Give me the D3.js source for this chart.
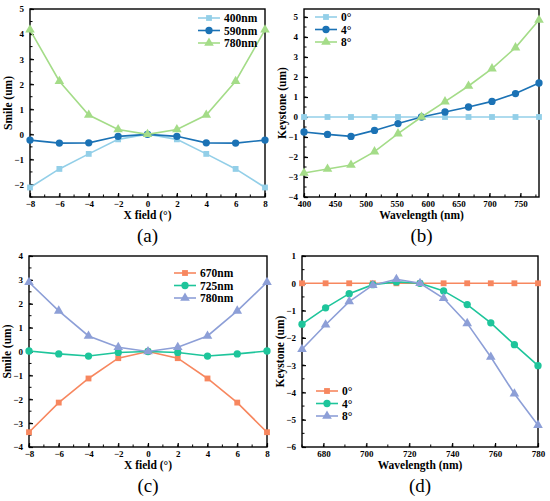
<!DOCTYPE html>
<html>
<head>
<meta charset="utf-8">
<script src="https://cdn.jsdelivr.net/npm/d3@7"></script>
<style>
  body { margin: 0; background: #fff; }
  svg { display: block; }
  text { font-family: "Liberation Serif", "DejaVu Serif", serif; }
</style>
</head>
<body>
<svg id="fig" width="550" height="501"></svg>
<script>
// field angles (deg) for the smile panels
const fieldX = [-8, -6, -4, -2, 0, 2, 4, 6, 8]
// wavelengths for keystone panels
const waveB = [400, 438, 476, 514, 552, 590, 628, 666, 704, 742, 780]
const waveD = [670, 681, 692, 703, 714, 725, 736, 747, 758, 769, 780]

// (a) smile, 400-780nm system
const smile400 = [-2.12, -1.38, -0.78, -0.2, 0, -0.2, -0.78, -1.38, -2.12]
const smile590 = [-0.23, -0.35, -0.34, -0.08, 0, -0.08, -0.34, -0.35, -0.23]
const smile780a = [4.17, 2.12, 0.77, 0.19, 0, 0.19, 0.77, 2.12, 4.17]

// (b) keystone
const key0b = [0, 0, 0, 0, 0, 0, 0, 0, 0, 0, 0]
const key4b = [-0.75, -0.87, -0.97, -0.67, -0.33, 0, 0.25, 0.5, 0.78, 1.17, 1.7]
const key8b = [-2.8, -2.6, -2.4, -1.73, -0.83, 0, 0.77, 1.55, 2.42, 3.47, 4.85]

// (c) smile, 670-780nm system
const smile670 = [-3.38, -2.14, -1.13, -0.28, 0, -0.28, -1.13, -2.14, -3.38]
const smile725 = [0.02, -0.1, -0.19, -0.04, 0, -0.04, -0.19, -0.1, 0.02]
const smile780c = [2.9, 1.7, 0.65, 0.18, 0, 0.18, 0.65, 1.7, 2.9]

// (d) keystone
const key0d = [0, 0, 0, 0, 0, 0, 0, 0, 0, 0, 0]
const key4d = [-1.5, -0.9, -0.38, -0.05, 0.05, 0, -0.28, -0.78, -1.45, -2.25, -3.02]
const key8d = [-2.42, -1.52, -0.67, -0.07, 0.15, 0, -0.55, -1.47, -2.7, -4.05, -5.2]

const ticksField = [-8, -6, -4, -2, 0, 2, 4, 6, 8]
const ticksWaveB = [400, 450, 500, 550, 600, 650, 700, 750]
const ticksWaveD = [680, 700, 720, 740, 760, 780]

const blueSet = ['#93cfe8', '#1b72b5', '#a4dc88']
const warmSet = ['#f7875f', '#1ec59b', '#8d9fd7']

const svg = d3.select('#fig')

function panel(o){
    let g = svg.append('g')
    let x = d3.scaleLinear().domain(o.xDom).range([o.left, o.right])
    let y = d3.scaleLinear().domain(o.yDom).range([o.bottom, o.top])

    // frame
    g.append('rect')
        .attr('x', o.left).attr('y', o.top)
        .attr('width', o.right - o.left).attr('height', o.bottom - o.top)
        .attr('fill', 'none').attr('stroke', '#000').attr('stroke-width', 1.4)

    // minor ticks (inside)
    let xMinor = d3.range(o.xDom[0], o.xDom[1] + 1e-9, o.xMinor)
    let yMinor = d3.range(Math.ceil(o.yDom[0] / o.yMinor) * o.yMinor, o.yDom[1] + 1e-9, o.yMinor)
    g.selectAll(null).data(xMinor).enter().append('line')
        .attr('x1', d => x(d)).attr('x2', d => x(d))
        .attr('y1', o.bottom).attr('y2', o.bottom - 2.5)
        .attr('stroke', '#000').attr('stroke-width', 1)
    g.selectAll(null).data(yMinor).enter().append('line')
        .attr('x1', o.left).attr('x2', o.left + 2.5)
        .attr('y1', d => y(d)).attr('y2', d => y(d))
        .attr('stroke', '#000').attr('stroke-width', 1)

    // major ticks via axis, pointing inward
    let xAxis = g.append('g')
        .attr('transform', 'translate(0,' + o.bottom + ')')
        .call(d3.axisBottom(x).tickValues(o.xTicks).tickSize(-4).tickPadding(4).tickFormat(d3.format('d')))
    let yAxis = g.append('g')
        .attr('transform', 'translate(' + o.left + ',0)')
        .call(d3.axisLeft(y).tickValues(o.yTicks).tickSize(-4).tickPadding(6).tickFormat(d3.format('d')))
    for (let a of [xAxis, yAxis]) {
        a.select('.domain').remove()
        a.selectAll('line').attr('stroke-width', 1.2)
        a.selectAll('text')
            .attr('font-family', '"Liberation Serif", serif')
            .attr('font-weight', 'bold')
            .attr('font-size', 9)
            .attr('fill', '#000')
    }

    // axis titles
    g.append('text')
        .attr('x', (o.left + o.right) / 2).attr('y', o.bottom + 22)
        .attr('text-anchor', 'middle')
        .attr('font-weight', 'bold').attr('font-size', 11.5)
        .text(o.xTitle)
    g.append('text')
        .attr('transform', 'translate(' + (o.left - 18) + ',' + ((o.top + o.bottom) / 2) + ') rotate(-90)')
        .attr('text-anchor', 'middle')
        .attr('font-weight', 'bold').attr('font-size', 11.5)
        .text(o.yTitle)

    // panel label
    g.append('text')
        .attr('x', (o.left + o.right) / 2).attr('y', o.bottom + 45)
        .attr('text-anchor', 'middle')
        .attr('font-size', 19)
        .text(o.label)

    let line = d3.line().x(d => x(d[0])).y(d => y(d[1]))
    let shapes = [d3.symbolSquare, d3.symbolCircle, d3.symbolTriangle]
    let sizes = [34, 42, 40]

    o.series.forEach((s, i) => {
        let pts = o.xs.map((v, k) => [v, s[k]])
        g.append('path')
            .attr('d', line(pts))
            .attr('fill', 'none').attr('stroke', o.colors[i]).attr('stroke-width', 1.6)
        g.selectAll(null).data(pts).enter().append('path')
            .attr('transform', d => 'translate(' + x(d[0]) + ',' + y(d[1]) + ')')
            .attr('d', d3.symbol().type(shapes[i]).size(sizes[i]))
            .attr('fill', o.colors[i])
    })

    // legend
    o.names.forEach((n, i) => {
        let ly = o.legY + i * 12.5
        g.append('line')
            .attr('x1', o.legX).attr('x2', o.legX + 22)
            .attr('y1', ly).attr('y2', ly)
            .attr('stroke', o.colors[i]).attr('stroke-width', 1.6)
        g.append('path')
            .attr('transform', 'translate(' + (o.legX + 11) + ',' + ly + ')')
            .attr('d', d3.symbol().type(shapes[i]).size(sizes[i]))
            .attr('fill', o.colors[i])
        g.append('text')
            .attr('x', o.legX + 26).attr('y', ly + 4)
            .attr('font-weight', 'bold').attr('font-size', 11.5)
            .text(n)
    })
}

panel({
    left: 30, right: 265, top: 9, bottom: 197,
    xDom: [-8, 8], yDom: [-2.5, 5], xMinor: 1, yMinor: 0.5,
    xTicks: ticksField, yTicks: [-2, -1, 0, 1, 2, 3, 4, 5],
    xs: fieldX, series: [smile400, smile590, smile780a],
    colors: blueSet, names: ['400nm', '590nm', '780nm'],
    xTitle: 'X field (°)', yTitle: 'Smile (um)', label: '(a)',
    legX: 198, legY: 18
})

panel({
    left: 304, right: 539, top: 9, bottom: 197,
    xDom: [400, 780], yDom: [-4, 5.4], xMinor: 25, yMinor: 0.5,
    xTicks: ticksWaveB, yTicks: [-4, -3, -2, -1, 0, 1, 2, 3, 4, 5],
    xs: waveB, series: [key0b, key4b, key8b],
    colors: blueSet, names: ['0°', '4°', '8°'],
    xTitle: 'Wavelength (nm)', yTitle: 'Keystone (um)', label: '(b)',
    legX: 315, legY: 17
})

panel({
    left: 29, right: 267, top: 256, bottom: 447,
    xDom: [-8, 8], yDom: [-4, 4], xMinor: 1, yMinor: 0.5,
    xTicks: ticksField, yTicks: [-4, -3, -2, -1, 0, 1, 2, 3, 4],
    xs: fieldX, series: [smile670, smile725, smile780c],
    colors: warmSet, names: ['670nm', '725nm', '780nm'],
    xTitle: 'X field (°)', yTitle: 'Smile (um)', label: '(c)',
    legX: 174, legY: 273
})

panel({
    left: 302, right: 538, top: 256, bottom: 447,
    xDom: [670, 780], yDom: [-6, 1], xMinor: 10, yMinor: 0.5,
    xTicks: ticksWaveD, yTicks: [-6, -5, -4, -3, -2, -1, 0, 1],
    xs: waveD, series: [key0d, key4d, key8d],
    colors: warmSet, names: ['0°', '4°', '8°'],
    xTitle: 'Wavelength (nm)', yTitle: 'Keystone (um)', label: '(d)',
    legX: 316, legY: 391
})
</script>
</body>
</html>
